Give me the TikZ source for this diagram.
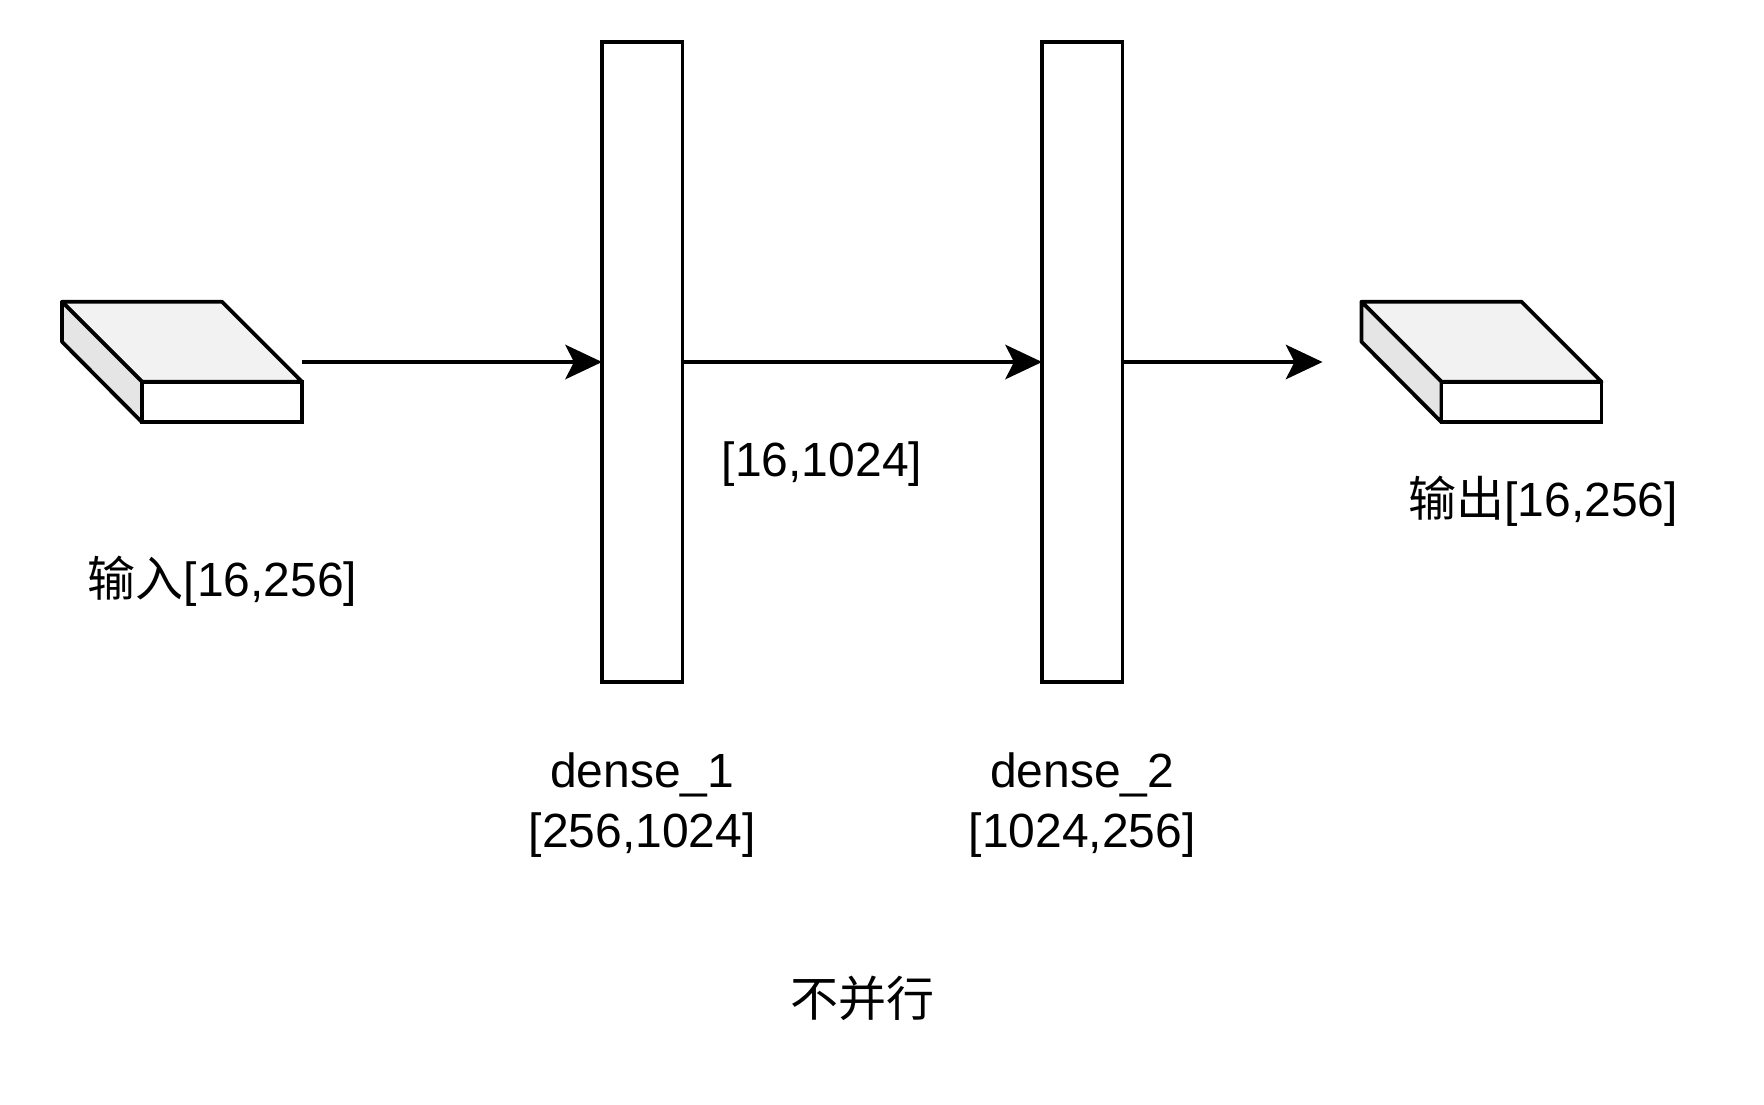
\documentclass[tikz,border=0pt]{standalone}
\usepackage{fontspec}
\setmainfont{Liberation Sans}
\newfontfamily\cjk{Noto Sans CJK SC}
\usepackage{xcolor}
\usetikzlibrary{arrows.meta, positioning}

\begin{document}
\begin{tikzpicture}[
  node distance=5mm and 5mm,
  line width=1.9pt,
  slabbox/.style={minimum width=120pt, minimum height=60.25pt, inner sep=0pt, outer sep=0pt},
  densebox/.style={draw, fill=white, minimum width=40.25pt, minimum height=320pt, inner sep=0pt, outer sep=0pt},
  lbl/.style={align=center, inner sep=0pt, font=\fontsize{24}{30}\selectfont},
  arr/.style={-{Stealth[length=18.5pt, width=17.5pt, inset=4.5pt, line width=0pt]}}
]
\useasboundingbox (0,0) rectangle (882pt,-552pt);

\node[slabbox] (input) at (91pt,-181pt) {};
\node[densebox, right=150pt of input] (dense1) {};
\node[densebox, right=179.75pt of dense1] (dense2) {};
\node[slabbox, right=119.5pt of dense2] (output) {};
\coordinate[left=19.5pt of output] (outend);

% slab faces
\foreach \s in {input,output} {
  \draw[fill=black!5, line join=round] (\s.north west) -- ++(80pt,0) -- ([yshift=20.25pt]\s.south east)
    -- ++(-80pt,0) -- cycle;
  \draw[fill=black!10, line join=round] (\s.north west) -- ([xshift=40pt,yshift=20.25pt]\s.south west)
    -- ([xshift=40pt]\s.south west) -- ([yshift=-20pt]\s.north west) -- cycle;
  \draw[fill=white] ([xshift=40pt,yshift=20.25pt]\s.south west) rectangle (\s.south east);
}

\node[lbl] (inlbl) at (111.3pt,-290.5pt) {{\cjk 输入}[16,256]};
\node[lbl] (midlbl) at (411pt,-232.2pt) {[16,1024]};
\node[lbl, below=34.6pt of dense1] (d1lbl) {dense\_1\\{}[256,1024]};
\node[lbl, below=34.6pt of dense2] (d2lbl) {dense\_2\\{}[1024,256]};
\node[lbl] (outlbl) at (771.5pt,-250.6pt) {{\cjk 输出}[16,256]};
\node[lbl] (title) at (431pt,-499pt) {\cjk 不并行};

\draw[arr] (input) -- (dense1);
\draw[arr] (dense1) -- (dense2);
\draw[arr] (dense2) -- (outend);
\end{tikzpicture}
\end{document}
